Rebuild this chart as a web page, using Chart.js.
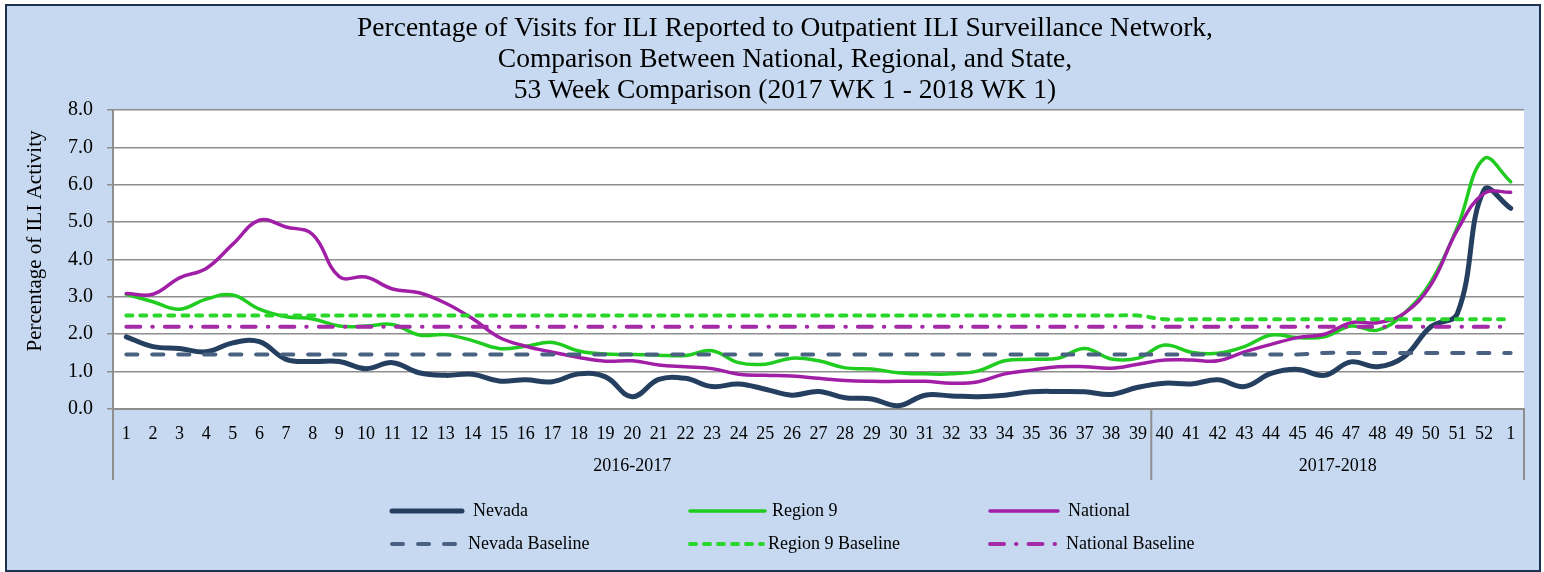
<!DOCTYPE html>
<html lang="en">
<head>
<meta charset="UTF-8">
<title>Percentage of Visits for ILI</title>
<script src="https://cdn.jsdelivr.net/npm/chart.js@4"></script>
<style>
  html, body { margin:0; padding:0; background:#fff; }
  #wrap { width:1544px; height:572px; }
</style>
</head>
<body>
<div id="wrap"><canvas id="iliChart" width="1544" height="572"></canvas></div>
<script>
  // week labels, 2017 WK 1 .. 2018 WK 1
  const weeks = ['1','2','3','4','5','6','7','8','9','10','11','12','13','14','15','16','17','18','19','20',
    '21','22','23','24','25','26','27','28','29','30','31','32','33','34','35','36','37','38','39','40',
    '41','42','43','44','45','46','47','48','49','50','51','52','1'];
  const seasons = ['2016-2017', '2017-2018'];
  const seasonBreak = 39; // weeks in first season group

  const nevada = [1.93,1.67,1.62,1.53,1.77,1.80,1.33,1.27,1.27,1.08,1.24,0.97,
    0.90,0.93,0.75,0.78,0.73,0.94,0.86,0.33,0.79,0.82,0.60,0.67,0.53,
    0.37,0.47,0.30,0.27,0.09,0.37,0.35,0.33,0.37,0.46,0.47,0.46,0.39,0.58,
    0.69,0.67,0.78,0.60,0.95,1.06,0.90,1.26,1.13,1.40,2.20,2.56,5.86,5.37];
  const region9 = [3.07,2.87,2.67,2.94,3.05,2.67,2.47,2.41,2.22,2.22,2.26,1.98,
    1.99,1.83,1.62,1.68,1.78,1.55,1.47,1.46,1.44,1.43,1.56,1.24,1.20,
    1.36,1.29,1.10,1.07,0.97,0.94,0.94,1.02,1.29,1.33,1.36,1.62,1.34,1.36,
    1.71,1.52,1.49,1.67,1.98,1.91,1.93,2.22,2.11,2.56,3.40,4.87,6.70,6.08];
  const national = [3.09,3.07,3.51,3.76,4.41,5.05,4.87,4.67,3.54,3.53,3.21,3.11,
    2.83,2.42,1.92,1.68,1.52,1.38,1.28,1.29,1.18,1.13,1.08,0.93,0.90,
    0.88,0.82,0.76,0.74,0.74,0.74,0.69,0.73,0.94,1.04,1.13,1.13,1.09,1.20,
    1.31,1.31,1.29,1.53,1.73,1.91,2.00,2.31,2.31,2.56,3.32,4.79,5.77,5.80];
  const nevadaBase = [1.46,1.46,1.46,1.46,1.46,1.46,1.46,1.46,1.46,1.46,1.46,1.46,1.46,1.46,1.46,1.46,1.46,1.46,1.46,1.46,
    1.46,1.46,1.46,1.46,1.46,1.46,1.46,1.46,1.46,1.46,1.46,1.46,1.46,1.46,1.46,1.46,1.46,1.46,1.46,1.46,
    1.46,1.46,1.46,1.46,1.46,1.50,1.50,1.50,1.50,1.50,1.50,1.50,1.50];
  const region9Base = [2.5,2.5,2.5,2.5,2.5,2.5,2.5,2.5,2.5,2.5,2.5,2.5,2.5,2.5,2.5,2.5,2.5,2.5,2.5,2.5,
    2.5,2.5,2.5,2.5,2.5,2.5,2.5,2.5,2.5,2.5,2.5,2.5,2.5,2.5,2.5,2.5,2.5,2.5,2.5,
    2.4,2.4,2.4,2.4,2.4,2.4,2.4,2.4,2.4,2.4,2.4,2.4,2.4,2.4];
  const nationalBase = [2.2,2.2,2.2,2.2,2.2,2.2,2.2,2.2,2.2,2.2,2.2,2.2,2.2,2.2,2.2,2.2,2.2,2.2,2.2,2.2,
    2.2,2.2,2.2,2.2,2.2,2.2,2.2,2.2,2.2,2.2,2.2,2.2,2.2,2.2,2.2,2.2,2.2,2.2,2.2,2.2,
    2.2,2.2,2.2,2.2,2.2,2.2,2.2,2.2,2.2,2.2,2.2,2.2,2.2];

  const SERIF = "'Liberation Serif', 'Times New Roman', serif";
  const GRID = '#8e8e8e';

  // legend slots: [lineStart, lineEnd, textX, rowY]
  const legendSlots = [
    [392, 462, 473, 511], [690, 765, 772, 511], [990, 1058, 1068, 511],
    [392, 462, 468, 544], [690, 763, 768, 544], [990, 1058, 1066, 544]
  ];

  const framePlugin = {
    id: 'frame',
    beforeDraw(chart) {
      const { ctx, chartArea: a } = chart;
      ctx.save();
      ctx.fillStyle = '#fff';
      ctx.fillRect(0, 0, chart.width, chart.height);
      ctx.fillStyle = '#c6d9f0';
      ctx.fillRect(6, 5, 1534, 566);
      ctx.strokeStyle = '#1c3150';
      ctx.lineWidth = 2;
      ctx.strokeRect(6, 5, 1534, 566);
      ctx.fillStyle = '#fff';
      ctx.fillRect(a.left, a.top, a.right - a.left, a.bottom - a.top);
      ctx.restore();
    },
    afterDraw(chart) {
      const { ctx, chartArea: a } = chart;
      const xs = chart.scales.x;
      ctx.save();
      // season group separators + labels
      const sep = (xs.getPixelForValue(seasonBreak - 1) + xs.getPixelForValue(seasonBreak)) / 2;
      ctx.strokeStyle = GRID;
      ctx.lineWidth = 2;
      [a.left, sep, a.right].forEach(x => {
        ctx.beginPath();
        ctx.moveTo(x, a.bottom);
        ctx.lineTo(x, 480);
        ctx.stroke();
      });
      ctx.fillStyle = '#000';
      ctx.font = '18px ' + SERIF;
      ctx.textAlign = 'center';
      ctx.textBaseline = 'middle';
      ctx.fillText(seasons[0], (a.left + sep) / 2, 466);
      ctx.fillText(seasons[1], (sep + a.right) / 2, 466);

      // y axis title
      ctx.save();
      ctx.translate(35, 241);
      ctx.rotate(-Math.PI / 2);
      ctx.font = '21px ' + SERIF;
      ctx.fillText('Percentage of ILI Activity', 0, 0);
      ctx.restore();

      // legend
      ctx.textAlign = 'left';
      ctx.font = '18px ' + SERIF;
      chart.data.datasets.forEach((ds, i) => {
        const [x0, x1, tx, y] = legendSlots[i];
        ctx.save();
        ctx.strokeStyle = ds.borderColor;
        ctx.lineWidth = ds.borderWidth;
        ctx.lineCap = ds.borderCapStyle || 'butt';
        ctx.setLineDash(ds.borderDash || []);
        ctx.beginPath();
        ctx.moveTo(x0, y);
        ctx.lineTo(x1, y);
        ctx.stroke();
        ctx.restore();
        ctx.fillStyle = '#000';
        ctx.fillText(ds.label, tx, y);
      });
      ctx.restore();
    }
  };

  const line = (label, data, color, width, extra) => Object.assign({
    label, data, borderColor: color, backgroundColor: color, borderWidth: width,
    pointRadius: 0, pointHoverRadius: 0, tension: 0.4, fill: false, borderCapStyle: 'round'
  }, extra || {});

  new Chart(document.getElementById('iliChart'), {
    type: 'line',
    data: {
      labels: weeks,
      datasets: [
        line('Nevada', nevada, '#243f60', 5),
        line('Region 9', region9, '#1fcc1f', 3.5),
        line('National', national, '#a11ea6', 3.5),
        line('Nevada Baseline', nevadaBase, '#4a6282', 4, { borderDash: [11, 15] }),
        line('Region 9 Baseline', region9Base, '#2ad62a', 4, { borderDash: [6, 8] }),
        line('National Baseline', nationalBase, '#a42aa8', 4, { borderDash: [14, 12, 0.5, 12] })
      ].map((d, i) => Object.assign(d, { order: 6 - i }))
    },
    options: {
      responsive: false,
      devicePixelRatio: 1,
      animation: false,
      layout: { padding: { left: 46, right: 20, top: 0, bottom: 0 } },
      plugins: {
        legend: { display: false },
        tooltip: { enabled: false },
        title: {
          display: true,
          text: ['Percentage of Visits for ILI Reported to Outpatient ILI Surveillance Network,',
                 'Comparison Between National, Regional, and State,',
                 '53 Week Comparison (2017 WK 1 - 2018 WK 1)'],
          color: '#000',
          font: { family: SERIF, size: 27.5, weight: 'normal', lineHeight: 1.127 },
          padding: { top: 13, bottom: 4 }
        }
      },
      scales: {
        x: {
          type: 'category',
          offset: true,
          grid: { display: false, drawTicks: false },
          border: { display: true, color: GRID, width: 2 },
          ticks: { color: '#000', font: { family: SERIF, size: 18 }, padding: 14, maxRotation: 0, autoSkip: false },
          afterFit(scale) { scale.height = 163; }
        },
        y: {
          min: 0, max: 8,
          grid: { color: GRID, lineWidth: 1.5, tickLength: 6, drawTicks: true },
          border: { display: true, color: GRID, width: 2 },
          ticks: {
            stepSize: 1, color: '#000', padding: 14,
            font: { family: SERIF, size: 20 },
            callback: v => Number(v).toFixed(1)
          },
          afterFit(scale) { scale.width = 67; }
        }
      }
    },
    plugins: [framePlugin]
  });
</script>
</body>
</html>
